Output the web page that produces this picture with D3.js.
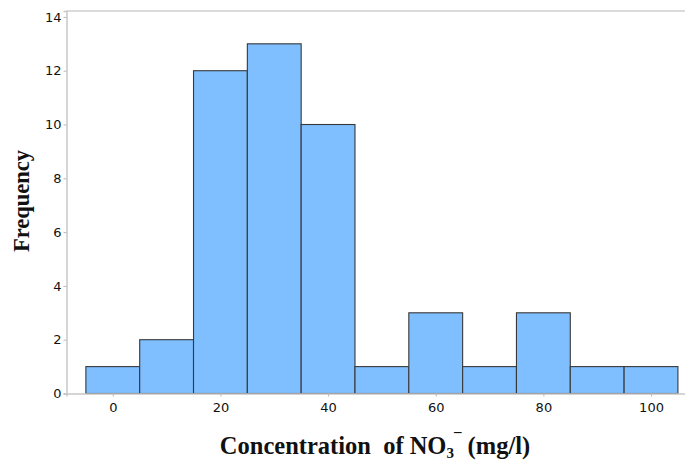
<!DOCTYPE html>
<html>
<head>
<meta charset="utf-8">
<script src="https://cdn.jsdelivr.net/npm/d3@7"></script>
<style>
  body { margin: 0; background: #fff; }
  .tick text { font-family: "DejaVu Sans", sans-serif; font-size: 13px; fill: #111; }
  .lbl { font-family: "Liberation Serif", "Times New Roman", serif; font-weight: bold; font-size: 22.5px; fill: #111; }
</style>
</head>
<body>
<div id="chart"></div>
<script>
// bin centres and counts
var binCenters = [0, 10, 20, 30, 40, 50, 60, 70, 80, 90, 100];
var counts = [1, 2, 12, 13, 10, 1, 3, 1, 3, 1, 1];
var binWidth = 10;
var xTicks = [0, 20, 40, 60, 80, 100];
var yTicks = [0, 2, 4, 6, 8, 10, 12, 14];

var W = 685, H = 462;
var svg = d3.select('#chart').append('svg')
  .attr('width', W)
  .attr('height', H);

var x = d3.scaleLinear().domain([-8.6, 106.5]).range([66.5, 686]);
var y = d3.scaleLinear().domain([0, 14.22]).range([393.5, 11]);

// frame line on top
svg.append('line')
  .attr('x1', x.range()[0]).attr('x2', x.range()[1])
  .attr('y1', y.range()[1]).attr('y2', y.range()[1])
  .attr('stroke', '#cfcfcf').attr('stroke-width', 1.5);

// bars
svg.selectAll('rect.bar').data(binCenters)
  .enter().append('rect')
  .attr('class', 'bar')
  .attr('x', function (d) { return x(d - binWidth / 2); })
  .attr('width', function (d) { return x(d + binWidth / 2) - x(d - binWidth / 2); })
  .attr('y', function (d, i) { return y(counts[i]); })
  .attr('height', function (d, i) { return y(0) - y(counts[i]); })
  .attr('fill', '#7fbfff')
  .attr('stroke', '#383838')
  .attr('stroke-width', 1.1);

var yAxis = svg.append('g')
  .attr('transform', 'translate(' + x.range()[0] + ',0)')
  .call(d3.axisLeft(y).tickValues(yTicks).tickSize(3).tickPadding(2).tickFormat(d3.format('d')));

var xAxis = svg.append('g')
  .attr('transform', 'translate(0,' + y(0) + ')')
  .call(d3.axisBottom(x).tickValues(xTicks).tickSize(3).tickPadding(6).tickFormat(d3.format('d')));

[yAxis, xAxis].forEach(function (g) {
  g.select('.domain').attr('stroke', '#c8c8c8').attr('stroke-width', 1.5);
  g.selectAll('.tick line').attr('stroke', '#b8b8b8');
});

// axis titles
svg.append('text')
  .attr('class', 'lbl')
  .attr('transform', 'translate(29,201) rotate(-90)')
  .attr('text-anchor', 'middle')
  .text('Frequency');

var xt = svg.append('text')
  .attr('class', 'lbl')
  .attr('x', 375)
  .attr('y', 454)
  .attr('text-anchor', 'middle')
  .style('font-size', '24.5px');
xt.append('tspan').text('Concentration\u00a0 of NO');
xt.append('tspan').attr('font-size', '15px').attr('dy', 4).text('3');
xt.append('tspan').attr('font-size', '15px').attr('dy', -15).text('\u00af');
xt.append('tspan').attr('dy', 11).text(' (mg/l)');
</script>
</body>
</html>
